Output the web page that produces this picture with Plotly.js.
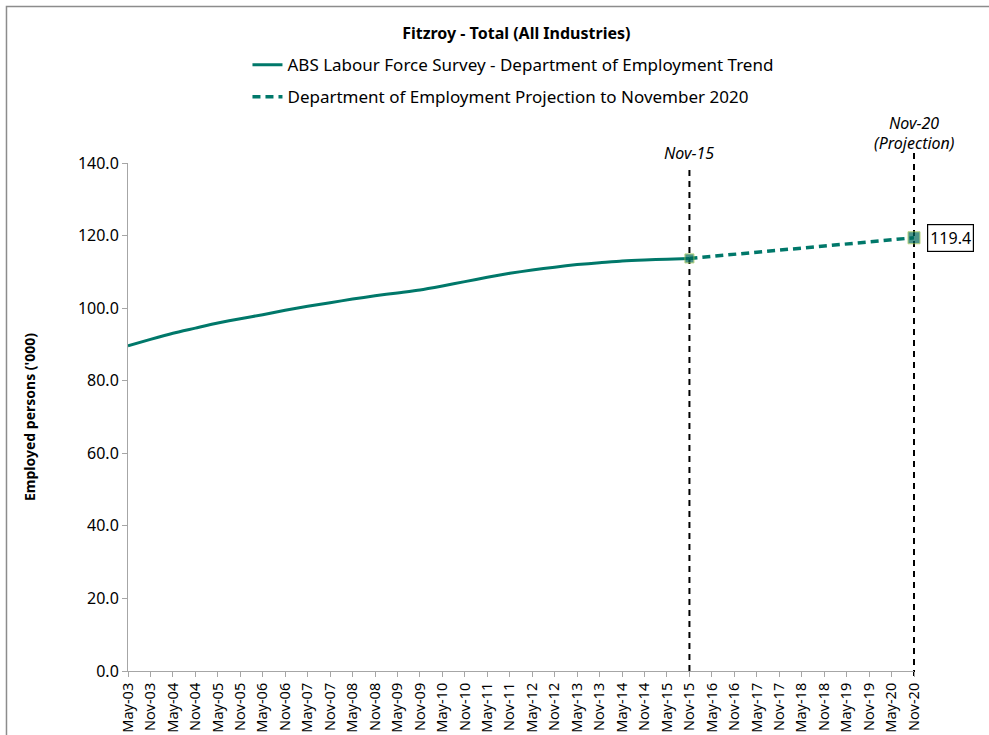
<!DOCTYPE html>
<html>
<head>
<meta charset="utf-8">
<script src="https://cdn.plot.ly/plotly-3.0.1.min.js"></script>
<style>
  html, body { margin: 0; padding: 0; background: #fff; }
  #chart { width: 989px; height: 735px; }
</style>
</head>
<body>
<div id="chart"></div>
<script>
// Category labels (half-yearly)
const categories = [
  'May-03','Nov-03','May-04','Nov-04','May-05','Nov-05','May-06','Nov-06',
  'May-07','Nov-07','May-08','Nov-08','May-09','Nov-09','May-10','Nov-10',
  'May-11','Nov-11','May-12','Nov-12','May-13','Nov-13','May-14','Nov-14',
  'May-15','Nov-15','May-16','Nov-16','May-17','Nov-17','May-18','Nov-18',
  'May-19','Nov-19','May-20','Nov-20'
];

// ABS Labour Force Survey - Department of Employment Trend (May-03 .. Nov-15), '000
const trendValues = [
  89.6, 91.4, 93.1, 94.5, 95.9, 97.1, 98.2, 99.4,
  100.5, 101.5, 102.5, 103.4, 104.2, 105.0, 106.1, 107.3,
  108.5, 109.6, 110.5, 111.3, 112.0, 112.5, 113.0, 113.3,
  113.5, 113.7
];

// Department of Employment Projection to November 2020
const projectionCats = ['Nov-15', 'Nov-20'];
const projectionValues = [113.7, 119.4];

const yTicks = [0, 20, 40, 60, 80, 100, 120, 140];

const teal = '#00786A';
const FONT = 'Noto Sans, Open Sans, sans-serif';

const trendTrace = {
  type: 'scatter', mode: 'lines',
  name: 'ABS Labour Force Survey - Department of Employment Trend',
  x: categories.slice(0, trendValues.length),
  y: trendValues,
  line: { color: teal, width: 3, shape: 'spline', smoothing: 0.6 },
  legendgroup: 'a'
};

const projTrace = {
  type: 'scatter', mode: 'lines',
  name: 'Department of Employment Projection to November 2020',
  x: projectionCats,
  y: projectionValues,
  line: { color: teal, width: 3.5, dash: '8px,5px' },
  legendgroup: 'b'
};

const markerTrace = {
  type: 'scatter', mode: 'markers', showlegend: false,
  x: projectionCats,
  y: projectionValues,
  cliponaxis: false,
  marker: { symbol: 'square', size: [9, 12], color: '#00685A',
            line: { color: '#9BC34A', width: 1 } }
};

const lastIdx = categories.length - 1;
const nov15 = 'Nov-15';
const nov20 = categories[lastIdx];

const layout = {
  width: 989, height: 735,
  margin: { l: 128, r: 75, t: 163, b: 64 },
  paper_bgcolor: '#fff', plot_bgcolor: '#fff',
  font: { family: FONT, color: '#000', size: 16 },
  title: {
    text: '<b>Fitzroy - Total (All Industries)</b>',
    font: { family: FONT, size: 16, color: '#000' },
    xref: 'paper', x: 0.494, xanchor: 'center',
    yref: 'container', y: 0.955, yanchor: 'middle'
  },
  showlegend: true,
  legend: {
    orientation: 'v',
    x: 0.152, xanchor: 'left',
    y: 1.228, yanchor: 'top',
    font: { family: FONT, size: 17, color: '#000' },
    tracegroupgap: 7,
    bgcolor: 'rgba(0,0,0,0)'
  },
  xaxis: {
    type: 'category',
    categoryorder: 'array', categoryarray: categories,
    range: [0, lastIdx],
    tickmode: 'array', tickvals: categories, ticktext: categories,
    tickangle: -90,
    ticks: 'outside', ticklen: 5, tickcolor: '#A6A6A6', tickwidth: 1,
    showline: true, linecolor: '#A6A6A6', linewidth: 1,
    showgrid: false, zeroline: false,
    tickfont: { family: FONT, size: 14.5, color: '#000' },
    fixedrange: true
  },
  yaxis: {
    range: [0, 140],
    tickmode: 'array', tickvals: yTicks,
    tickformat: '.1f',
    ticks: 'outside', ticklen: 5, tickcolor: '#A6A6A6', tickwidth: 1,
    showline: true, linecolor: '#A6A6A6', linewidth: 1,
    showgrid: false, zeroline: false,
    tickfont: { family: FONT, size: 16, color: '#000' },
    title: { text: "<b>Employed persons ('000)</b>", font: { family: FONT, size: 14, color: '#000' }, standoff: 38 },
    fixedrange: true
  },
  shapes: [
    { type: 'line', xref: 'x', yref: 'paper', x0: nov15, x1: nov15, y0: 0, y1: 0.99,
      line: { color: '#000', width: 2, dash: '6px,5px' }, layer: 'below' },
    // reference line at the right end of the axis (Nov-20)
    { type: 'line', xref: 'paper', yref: 'paper', x0: 1, x1: 1, y0: -0.01, y1: 1.022,
      line: { color: '#000', width: 2, dash: '6px,5px' }, layer: 'below' },
    { type: 'rect', xref: 'paper', yref: 'paper', x0: -0.1546, x1: 1.2, y0: -0.2, y1: 1.308,
      line: { color: '#8C8C8C', width: 1.5 }, fillcolor: 'rgba(0,0,0,0)' }
  ],
  annotations: [
    { xref: 'x', yref: 'paper', x: nov15, y: 1.019, text: '<i>Nov-15</i>', showarrow: false,
      font: { family: FONT, size: 16, color: '#000' }, xanchor: 'center', yanchor: 'middle' },
    { xref: 'x', yref: 'paper', x: nov20, y: 1.079, text: '<i>Nov-20</i>', showarrow: false,
      font: { family: FONT, size: 16, color: '#000' }, xanchor: 'center', yanchor: 'middle' },
    { xref: 'x', yref: 'paper', x: nov20, y: 1.039, text: '<i>(Projection)</i>', showarrow: false,
      font: { family: FONT, size: 16, color: '#000' }, xanchor: 'center', yanchor: 'middle' },
    { xref: 'x', yref: 'y', x: nov20, y: projectionValues[1], text: projectionValues[1].toFixed(1),
      showarrow: false, xanchor: 'left', yanchor: 'middle', xshift: 13,
      font: { family: FONT, size: 16, color: '#000' },
      bordercolor: '#000', borderwidth: 1.2, borderpad: 2, bgcolor: '#fff' }
  ]
};

Plotly.newPlot('chart', [trendTrace, projTrace, markerTrace], layout, { displayModeBar: false, staticPlot: true });
</script>
</body>
</html>
